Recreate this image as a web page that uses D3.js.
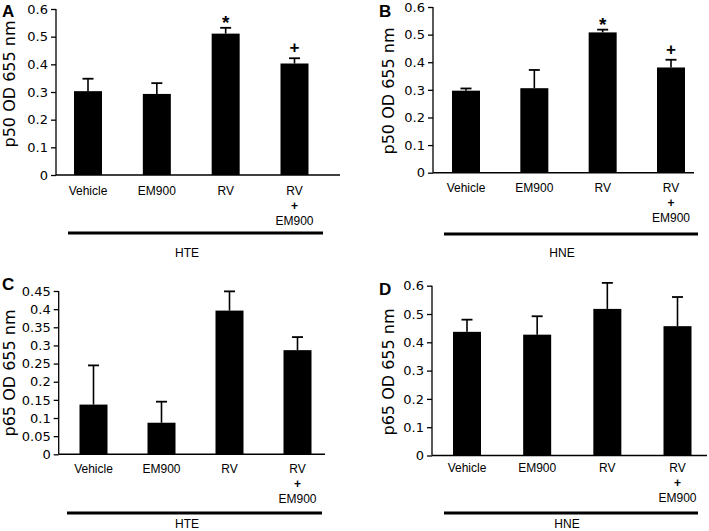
<!DOCTYPE html>
<html><head><meta charset="utf-8">
<script src="https://cdn.jsdelivr.net/npm/d3@7"></script>
<style>body{margin:0;background:#fff;} svg{display:block;font-family:"Liberation Sans",Arial,sans-serif;}</style>
</head><body>
<svg id="c" width="709" height="531"></svg>
<script>
const categories = ["Vehicle", "EM900", "RV", "RV + EM900"];
const p50HTE = [0.303, 0.293, 0.511, 0.403];
const p50HTEerr = [0.045, 0.039, 0.021, 0.019];
const p50HNE = [0.297, 0.306, 0.508, 0.381];
const p50HNEerr = [0.008, 0.066, 0.010, 0.028];
const p65HTE = [0.137, 0.087, 0.396, 0.287];
const p65HTEerr = [0.108, 0.058, 0.053, 0.036];
const p65HNE = [0.437, 0.427, 0.518, 0.457];
const p65HNEerr = [0.043, 0.065, 0.092, 0.103];
const sigP50 = ["", "", "*", "+"];
const sigNone = ["", "", "", ""];
const ticksP50 = [0, 0.1, 0.2, 0.3, 0.4, 0.5, 0.6];
const ticksP65HTE = [0, 0.05, 0.1, 0.15, 0.2, 0.25, 0.3, 0.35, 0.4, 0.45];
const ticksP65HNE = [0, 0.1, 0.2, 0.3, 0.4, 0.5, 0.6];

const panels = [
  {letter:"A", title:"p50 OD 655 nm", group:"HTE", vals:p50HTE, errs:p50HTEerr, sig:sigP50, ticks:ticksP50, ymax:0.6,
   ax:56, y0:175, yTop:9, xEnd:340, c0:88, c1:294.5, lblY:195, gY:233, gX0:68, gX1:323, gLblY:257, gLblX:187,
   lx:2, ly:17, tx:15, ty:84},
  {letter:"B", title:"p50 OD 655 nm", group:"HNE", vals:p50HNE, errs:p50HNEerr, sig:sigP50, ticks:ticksP50, ymax:0.6,
   ax:433, y0:172.7, yTop:7, xEnd:694, c0:466, c1:671, lblY:192, gY:234, gX0:444, gX1:698, gLblY:257, gLblX:562,
   lx:379, ly:17, tx:394, ty:91},
  {letter:"C", title:"p65 OD 655 nm", group:"HTE", vals:p65HTE, errs:p65HTEerr, sig:sigNone, ticks:ticksP65HTE, ymax:0.45,
   ax:58.7, y0:454.3, yTop:291, xEnd:325, c0:93.5, c1:297.5, lblY:473, gY:513, gX0:67, gX1:322, gLblY:528, gLblX:187,
   lx:2, ly:290, tx:15, ty:373},
  {letter:"D", title:"p65 OD 655 nm", group:"HNE", vals:p65HNE, errs:p65HNEerr, sig:sigNone, ticks:ticksP65HNE, ymax:0.6,
   ax:432, y0:455.5, yTop:285.7, xEnd:707, c0:467, c1:677.5, lblY:472, gY:513, gX0:444, gX1:698, gLblY:528, gLblX:567,
   lx:379, ly:295, tx:394, ty:372}
];

const svg = d3.select("#c");
const barW = 28, capW = 11;

panels.forEach(p => {
  const g = svg.append("g");
  const y = d3.scaleLinear().domain([0, p.ymax]).range([p.y0, p.yTop]);
  const x = d3.scalePoint().domain(categories).range([p.c0, p.c1]);

  g.selectAll("rect.bar").data(categories).join("rect")
    .attr("x", d => x(d) - barW/2)
    .attr("y", (d,i) => y(p.vals[i]))
    .attr("width", barW)
    .attr("height", (d,i) => y(0) - y(p.vals[i]))
    .attr("fill", "#000");

  g.selectAll("line.err").data(categories).join("line")
    .attr("x1", d => x(d)).attr("x2", d => x(d))
    .attr("y1", (d,i) => y(p.vals[i])).attr("y2", (d,i) => y(p.vals[i] + p.errs[i]))
    .attr("stroke", "#000").attr("stroke-width", 1.6);
  g.selectAll("line.cap").data(categories).join("line")
    .attr("x1", d => x(d) - capW/2).attr("x2", d => x(d) + capW/2)
    .attr("y1", (d,i) => y(p.vals[i] + p.errs[i])).attr("y2", (d,i) => y(p.vals[i] + p.errs[i]))
    .attr("stroke", "#000").attr("stroke-width", 1.8);

  g.selectAll("text.sig").data(categories).join("text")
    .attr("x", d => x(d))
    .attr("y", (d,i) => y(p.vals[i] + p.errs[i]) - (p.sig[i] === "*" ? -1 : 5))
    .attr("text-anchor", "middle")
    .attr("font-size", (d,i) => p.sig[i] === "*" ? 19 : 17)
    .attr("font-weight", "bold")
    .text((d,i) => p.sig[i]);

  const yAxis = d3.axisLeft(y).tickValues(p.ticks).tickSize(5).tickPadding(3)
    .tickFormat(d => d === 0 ? "0" : String(+d.toFixed(2)));
  const ya = g.append("g").attr("transform", `translate(${p.ax},0)`).call(yAxis);
  ya.select(".domain").attr("d", `M0,${p.yTop}V${p.y0}`).attr("stroke-width", 1.3);
  ya.selectAll(".tick line").attr("stroke-width", 1.3);
  ya.selectAll(".tick text").attr("font-size", 13).attr("font-family", "'DejaVu Sans',Verdana,sans-serif").attr("fill", "#000");

  g.append("line").attr("x1", p.ax).attr("x2", p.xEnd).attr("y1", y(0)).attr("y2", y(0))
    .attr("stroke", "#000").attr("stroke-width", 1.5);

  categories.forEach(c => {
    const lines = c === "RV + EM900" ? ["RV", "+", "EM900"] : [c];
    lines.forEach((t, k) => {
      g.append("text").attr("x", x(c)).attr("y", p.lblY + k*15)
        .attr("text-anchor", "middle").attr("font-size", 12)
        .attr("font-weight", t === "+" ? "bold" : "normal").text(t);
    });
  });

  g.append("line").attr("x1", p.gX0).attr("x2", p.gX1).attr("y1", p.gY).attr("y2", p.gY)
    .attr("stroke", "#000").attr("stroke-width", 3);
  g.append("text").attr("x", p.gLblX).attr("y", p.gLblY).attr("text-anchor", "middle")
    .attr("font-size", 12).text(p.group);

  g.append("text").attr("transform", `translate(${p.tx},${p.ty}) rotate(-90)`)
    .attr("text-anchor", "middle").attr("font-size", 16)
    .attr("font-family", "'DejaVu Sans',Verdana,sans-serif").text(p.title);

  g.append("text").attr("x", p.lx).attr("y", p.ly).attr("font-size", 17)
    .attr("font-weight", "bold").text(p.letter);
});
</script>
</body></html>
